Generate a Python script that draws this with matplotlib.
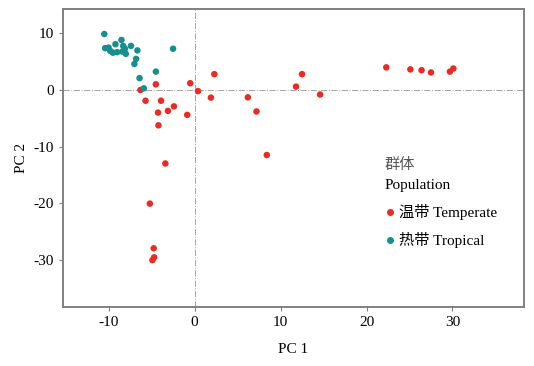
import numpy as np
import matplotlib.pyplot as plt
from matplotlib.lines import Line2D

plt.rcParams['font.family'] = ['Liberation Serif', 'Noto Sans CJK SC']
plt.rcParams['axes.unicode_minus'] = False

# PCA scores
temperate_pc1 = [-6.3, -4.5, -0.5, 2.3, 0.4, 1.9, 6.2, 7.2, 8.4, -5.7, -3.9, -4.25,
                 -3.1, -2.4, -0.85, -4.2, -3.4, -5.2, -4.75, -4.7, -4.9, 11.8, 12.5,
                 14.6, 22.3, 25.1, 26.4, 27.5, 29.7, 30.1]
temperate_pc2 = [0.0, 1.0, 1.2, 2.8, -0.2, -1.35, -1.3, -3.8, -11.5, -1.9, -1.9, -4.0,
                 -3.7, -2.9, -4.4, -6.25, -13.0, -20.1, -28.0, -29.6, -30.1, 0.6, 2.8,
                 -0.8, 4.0, 3.65, 3.5, 3.1, 3.25, 3.8]
tropical_pc1 = [-10.5, -10.4, -10.0, -9.2, -9.5, -9.0, -8.5, -8.3, -8.1, -8.0, -8.4,
                -7.4, -6.65, -6.8, -7.0, -6.4, -5.9, -4.5, -2.5, -9.8]
tropical_pc2 = [9.9, 7.4, 7.5, 8.1, 6.6, 6.7, 8.85, 7.8, 7.3, 6.4, 6.8,
                7.8, 7.0, 5.5, 4.6, 2.1, 0.3, 3.25, 7.3, 6.9]

red = '#EC2A24'
teal = '#15908E'

fig = plt.figure(figsize=(5.34, 3.66), dpi=100)
ax = fig.add_axes([0.118, 0.161, 0.863, 0.814])

ax.axhline(0, color='#a5a5a5', lw=0.7, ls='-.', zorder=1)
ax.axvline(0, color='#a5a5a5', lw=0.7, ls='-.', zorder=1)

ax.scatter(temperate_pc1, temperate_pc2, s=22, color=red, edgecolors='none', zorder=3)
ax.scatter(tropical_pc1, tropical_pc2, s=22, color=teal, edgecolors='none', zorder=3)

ax.set_xlim(-15.3, 38.3)
ax.set_ylim(-38.4, 14.3)
ax.set_xticks([-10, 0, 10, 20, 30])
ax.set_yticks([10, 0, -10, -20, -30])
ax.tick_params(colors='#808080', labelcolor='black', labelsize=11, length=3, width=0.8)
for sp in ax.spines.values():
    sp.set_color('#808080')
    sp.set_linewidth(1.4)

ax.set_xlabel('PC 1', fontsize=11, labelpad=10)
ax.set_ylabel('PC 2', fontsize=11, labelpad=4)

# legend
fig.text(385 / 534, 1 - 165 / 366, '群体', fontsize=11, color='#555555', va='center')
fig.text(385 / 534, 1 - 186 / 366, 'Population', fontsize=11, color='black', va='center')
handles = [Line2D([], [], marker='o', ls='none', color=red, markersize=4, label='温带 Temperate'),
           Line2D([], [], marker='o', ls='none', color=teal, markersize=4, label='热带 Tropical')]
fig.legend(handles=handles, loc='upper left', bbox_to_anchor=(376 / 534, 1 - 198 / 366),
           frameon=False, fontsize=11, handletextpad=0.1, labelspacing=0.8,
           handlelength=1.0, borderaxespad=0)

fig.savefig('out.png', dpi=100)
